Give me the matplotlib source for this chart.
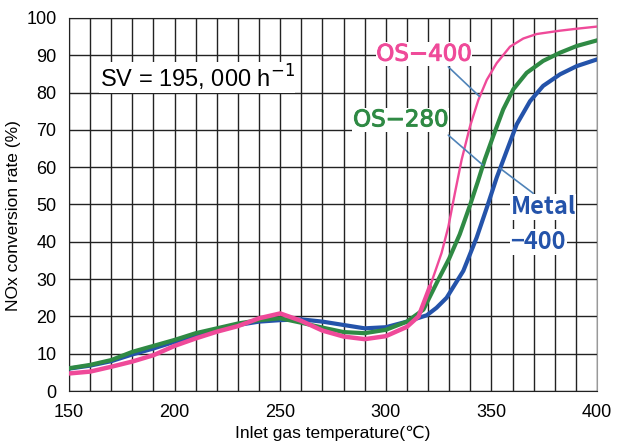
import matplotlib
matplotlib.use("Agg")
import matplotlib.pyplot as plt
import matplotlib.patheffects as pe

# ---- data ----
temp_os400 = [150, 160, 170, 180, 190, 200, 210, 220, 230, 240, 250, 260, 270, 280, 290,
              300, 310, 315.5, 320.9, 326.4, 329.6, 332.7, 335.9, 339.9, 343.8, 347.8, 352.5,
              358.8, 365.1, 371.4, 382.5, 390, 400]
nox_os400 = [4.7, 5.2, 6.5, 7.9, 9.6, 12.1, 14.1, 15.9, 17.4, 19.5, 20.8, 18.8, 16.2, 14.6, 13.9,
             14.7, 17.2, 20.0, 28.0, 37.0, 44.0, 53.0, 62.0, 71.0, 78.0, 83.4, 87.9,
             92.3, 94.5, 95.7, 96.6, 97.1, 97.7]

temp_os280 = [150, 160, 170, 180, 190, 200, 210, 220, 230, 240, 250, 260, 270, 280, 290,
              300, 310, 317.8, 325, 330, 335, 340, 343.5, 346.9, 350.9, 355.6, 360.4, 366.7,
              374.5, 382.5, 390.4, 400]
nox_os280 = [6.1, 7.0, 8.3, 10.5, 12.1, 13.7, 15.5, 16.8, 18.1, 19.0, 19.5, 18.3, 17.0, 15.8, 15.5,
             16.4, 18.6, 21.8, 30.0, 35.5, 42.0, 50.0, 56.0, 62.1, 68.4, 75.5, 80.9, 85.3,
             88.5, 90.7, 92.5, 94.0]

temp_metal = [150, 160, 170, 180, 190, 200, 210, 220, 230, 240, 250, 260, 270, 280, 290,
              300, 310, 319.4, 324, 328.8, 336.7, 343, 347.8, 352.5, 357.2, 362, 368.3,
              374.5, 382.5, 390.4, 400]
nox_metal = [6.0, 6.8, 8.0, 9.8, 11.4, 13.2, 14.8, 16.4, 17.7, 18.6, 19.0, 19.2, 18.6, 17.7, 16.8,
             17.1, 18.6, 20.3, 22.3, 25.0, 32.2, 41.1, 49.1, 57.2, 64.3, 71.5, 77.7,
             81.8, 84.9, 87.1, 88.9]

x_ticks = [150, 200, 250, 300, 350, 400]
y_ticks = [0, 10, 20, 30, 40, 50, 60, 70, 80, 90, 100]

c_pink = "#ef4a99"
c_green = "#2f8a44"
c_blue = "#2453aa"
c_leader = "#4f83b8"

fig = plt.figure(figsize=(6.28, 4.44), dpi=100)
ax = fig.add_axes([69 / 628, 53 / 444, 528 / 628, 373 / 444])

# grid every 10 degC / 10 %
for xv in range(150, 401, 10):
    ax.axvline(xv, color="#222222", lw=1.0, zorder=1)
for yv in range(0, 101, 10):
    ax.axhline(yv, color="#222222", lw=1.0, zorder=1)

ax.plot(temp_metal, nox_metal, color=c_blue, lw=3.0, zorder=3, solid_joinstyle="round")
ax.plot(temp_os280, nox_os280, color=c_green, lw=3.0, zorder=4, solid_joinstyle="round")
# OS-400: noisy (thick) at low temperature, smooth (thin) after light-off
n_split = temp_os400.index(320.9)
ax.plot(temp_os400[:n_split + 1], nox_os400[:n_split + 1], color=c_pink, lw=3.2, zorder=5,
        solid_capstyle="round", solid_joinstyle="round")
ax.plot(temp_os400[n_split:], nox_os400[n_split:], color=c_pink, lw=1.7, zorder=5,
        solid_capstyle="round", solid_joinstyle="round")

ax.set_xlim(150, 400)
ax.set_ylim(0, 100)
ax.set_xticks(x_ticks)
ax.set_yticks(y_ticks)
ax.tick_params(length=0, labelsize=13, pad=9)
for lab in ax.get_xticklabels() + ax.get_yticklabels():
    lab.set_family(["Liberation Sans", "DejaVu Sans"])
for s in ["left", "bottom", "top"]:
    ax.spines[s].set_color("#222222")
ax.spines["right"].set_color("#999999")

ax.set_xlabel("Inlet gas temperature(\u2103)", fontsize=12.5, labelpad=4,
              family=["Liberation Sans", "DejaVu Sans"])
ax.set_ylabel("NOx conversion rate (%)", fontsize=12.5,
              family=["Liberation Sans", "DejaVu Sans"])
ax.yaxis.set_label_coords(-0.091, 0.47)

box = dict(facecolor="white", edgecolor="none", pad=0.5)
ax.text(164.5, 84, "SV = 195, 000 h$^{-1}$", fontsize=17, ha="left", va="center",
        family=["Liberation Sans", "DejaVu Sans"], zorder=6, bbox=box)

lab_font = ["DejaVu Sans"]
t1 = ax.text(318, 90.3, "OS\u2212400", color=c_pink, fontsize=16.5, ha="center", va="center",
             family=lab_font, zorder=6, bbox=box)
t1.set_path_effects([pe.withStroke(linewidth=0.7, foreground=c_pink)])
t2 = ax.text(307, 72.7, "OS\u2212280", color=c_green, fontsize=16.5, ha="center", va="center",
             family=lab_font, zorder=6, bbox=box)
t2.set_path_effects([pe.withStroke(linewidth=0.7, foreground=c_green)])
ax.text(359, 49.3, "Metal", color=c_blue, fontsize=17, ha="left", va="center",
        family=["Noto Sans CJK JP", "DejaVu Sans"], fontweight="bold", zorder=6, bbox=box)
ax.text(359, 40.0, "\u2212400", color=c_blue, fontsize=17, ha="left", va="center",
        family=["Noto Sans CJK JP", "DejaVu Sans"], fontweight="bold", zorder=6, bbox=box)

lp = dict(arrowstyle="-", color=c_leader, lw=1.2, shrinkA=0, shrinkB=0)
ax.annotate("", xy=(344.3, 79.0), xytext=(329.6, 86.9), arrowprops=lp, zorder=7)
ax.annotate("", xy=(345.9, 60.6), xytext=(329.6, 68.6), arrowprops=lp, zorder=7)
ax.annotate("", xy=(354.1, 59.7), xytext=(369.8, 53.0), arrowprops=lp, zorder=7)

fig.savefig("out.png", dpi=100)
